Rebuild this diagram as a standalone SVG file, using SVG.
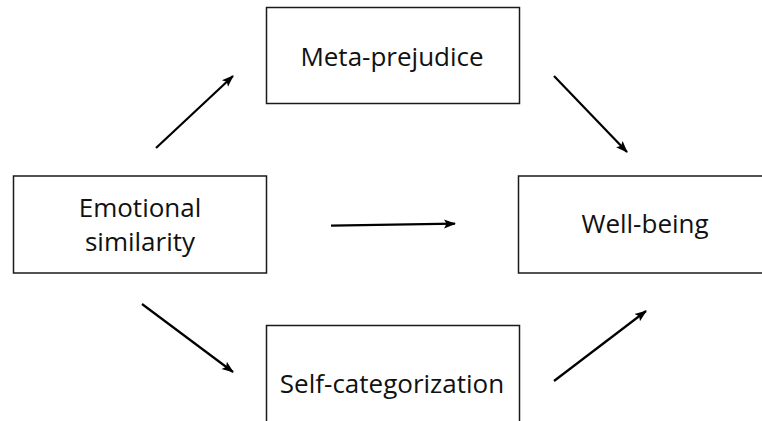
<svg xmlns="http://www.w3.org/2000/svg" width="762" height="421" viewBox="0 0 762 421">
<style>
.box{fill:#fff;stroke:#1a1a1a;stroke-width:1.5}
.lbl{font-family:"Open Sans","Liberation Sans",sans-serif;font-size:26px;fill:#111;text-anchor:middle}
.edge{stroke:#000;stroke-width:2.2;fill:none;marker-end:url(#ah)}
</style>
<defs>
<marker id="ah" markerUnits="userSpaceOnUse" markerWidth="12" markerHeight="12" viewBox="0 0 12 12" refX="11" refY="6" orient="auto">
<path d="M0,1.5 L12,6 L0,10.5 L2.5,6 Z" fill="#000"/>
</marker>
</defs>
<rect width="762" height="421" fill="#fff"/>
<g id="meta-prejudice">
<rect class="box" x="266.5" y="7.5" width="253" height="96"/>
<text class="lbl" x="392" y="66">Meta-prejudice</text>
</g>
<g id="emotional-similarity">
<rect class="box" x="13.5" y="176" width="253" height="97"/>
<text class="lbl" x="140" y="217">Emotional</text>
<text class="lbl" x="140" y="251">similarity</text>
</g>
<g id="well-being">
<rect class="box" x="518.5" y="176" width="260" height="97"/>
<text class="lbl" x="645" y="233">Well-being</text>
</g>
<g id="self-categorization">
<rect class="box" x="266.5" y="325.5" width="253" height="110"/>
<text class="lbl" x="392" y="393">Self-categorization</text>
</g>
<g id="connectors">
<line class="edge" x1="156" y1="148" x2="233" y2="76"/>
<line class="edge" x1="554" y1="76" x2="627" y2="152"/>
<line class="edge" x1="331" y1="225.7" x2="455" y2="223.7"/>
<line class="edge" x1="142" y1="304" x2="233" y2="372"/>
<line class="edge" x1="554" y1="381" x2="646" y2="311"/>
</g>
</svg>
